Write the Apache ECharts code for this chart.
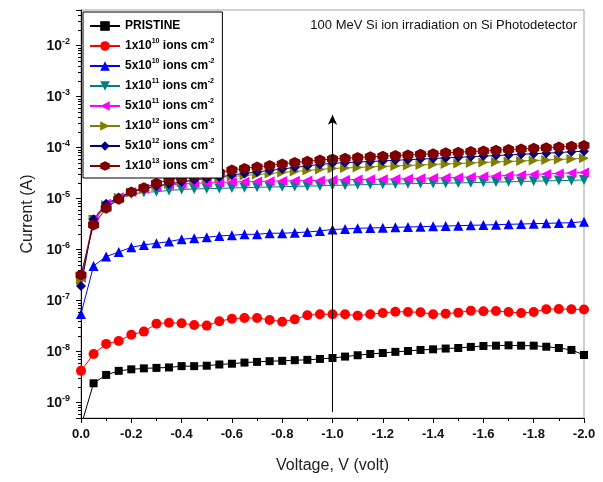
<!DOCTYPE html>
<html lang="en">
  <head>
    <meta charset="UTF-8" />
    <title>Si photodetector I-V</title>
    <style>
      body {
        margin: 0;
        background-color: #ffffff;
      }
      #chart {
        width: 603px;
        height: 482px;
      }
    </style>
  </head>
  <body>
    <div id="chart"></div>
    <script src="https://cdn.jsdelivr.net/npm/echarts@6/dist/echarts.min.js"></script>
    <script>
      // voltage points, 0 to -2.0 V every 0.05 V
      const voltage = [
        0, -0.05, -0.1, -0.15, -0.2, -0.25, -0.3, -0.35, -0.4, -0.45, -0.5,
        -0.55, -0.6, -0.65, -0.7, -0.75, -0.8, -0.85, -0.9, -0.95, -1.0,
        -1.05, -1.1, -1.15, -1.2, -1.25, -1.3, -1.35, -1.4, -1.45, -1.5,
        -1.55, -1.6, -1.65, -1.7, -1.75, -1.8, -1.85, -1.9, -1.95, -2.0,
      ];

      const pristine = [
        3.5e-10, 2.4e-9, 3.5e-9, 4.2e-9, 4.5e-9, 4.7e-9, 4.8e-9, 4.9e-9, 5.2e-9, 5.2e-9, 5.3e-9,
        5.6e-9, 5.8e-9, 6.1e-9, 6.3e-9, 6.5e-9, 6.6e-9, 6.8e-9, 6.9e-9, 7.2e-9, 7.5e-9,
        8.0e-9, 8.5e-9, 9.0e-9, 9.4e-9, 9.9e-9, 1.03e-8, 1.08e-8, 1.11e-8, 1.15e-8, 1.18e-8,
        1.24e-8, 1.29e-8, 1.31e-8, 1.33e-8, 1.31e-8, 1.31e-8, 1.25e-8, 1.18e-8, 1.08e-8, 8.6e-9,
      ];
      const flu1e10 = [
        4.2e-9, 9.0e-9, 1.42e-8, 1.62e-8, 2.15e-8, 2.47e-8, 3.54e-8, 3.7e-8, 3.6e-8, 3.34e-8, 3.24e-8,
        3.94e-8, 4.43e-8, 4.57e-8, 4.57e-8, 4.19e-8, 3.87e-8, 4.3e-8, 5.18e-8, 5.4e-8, 5.4e-8,
        5.4e-8, 5.08e-8, 5.4e-8, 5.74e-8, 6.08e-8, 6.0e-8, 5.92e-8, 5.4e-8, 5.56e-8, 5.82e-8,
        6.37e-8, 6.2e-8, 6.28e-8, 6.0e-8, 5.74e-8, 6.0e-8, 6.78e-8, 6.87e-8, 6.78e-8, 6.7e-8,
      ];
      const flu5e10 = [
        5.5e-8, 4.8e-7, 7.3e-7, 9.0e-7, 1.11e-6, 1.24e-6, 1.33e-6, 1.44e-6, 1.6e-6, 1.68e-6, 1.75e-6,
        1.86e-6, 1.91e-6, 2.0e-6, 2.0e-6, 2.1e-6, 2.1e-6, 2.15e-6, 2.22e-6, 2.32e-6, 2.49e-6,
        2.54e-6, 2.63e-6, 2.66e-6, 2.7e-6, 2.74e-6, 2.78e-6, 2.82e-6, 2.87e-6, 2.91e-6, 2.95e-6,
        3.0e-6, 3.04e-6, 3.09e-6, 3.14e-6, 3.18e-6, 3.23e-6, 3.28e-6, 3.33e-6, 3.38e-6, 3.54e-6,
      ];
      const flu1e11 = [
        2.55e-7, 3.8e-6, 6.9e-6, 9.9e-6, 1.24e-5, 1.32e-5, 1.37e-5, 1.45e-5, 1.51e-5, 1.55e-5, 1.57e-5,
        1.59e-5, 1.62e-5, 1.64e-5, 1.67e-5, 1.69e-5, 1.71e-5, 1.74e-5, 1.76e-5, 1.78e-5, 1.82e-5,
        1.84e-5, 1.87e-5, 1.89e-5, 1.92e-5, 1.94e-5, 1.96e-5, 1.98e-5, 1.99e-5, 2.01e-5, 2.03e-5,
        2.06e-5, 2.09e-5, 2.11e-5, 2.14e-5, 2.17e-5, 2.2e-5, 2.23e-5, 2.26e-5, 2.28e-5, 2.33e-5,
      ];
      const flu5e11 = [
        2.8e-7, 4.0e-6, 7.9e-6, 1.06e-5, 1.35e-5, 1.55e-5, 1.72e-5, 1.86e-5, 1.94e-5, 2.0e-5, 2.03e-5,
        2.08e-5, 2.12e-5, 2.15e-5, 2.17e-5, 2.2e-5, 2.22e-5, 2.24e-5, 2.26e-5, 2.28e-5, 2.33e-5,
        2.35e-5, 2.37e-5, 2.39e-5, 2.41e-5, 2.43e-5, 2.46e-5, 2.5e-5, 2.53e-5, 2.56e-5, 2.61e-5,
        2.66e-5, 2.72e-5, 2.79e-5, 2.85e-5, 2.92e-5, 2.98e-5, 3.05e-5, 3.12e-5, 3.19e-5, 3.27e-5,
      ];
      const flu1e12 = [
        2.55e-7, 3.8e-6, 7.5e-6, 1.03e-5, 1.32e-5, 1.55e-5, 1.77e-5, 1.94e-5, 2.12e-5, 2.33e-5, 2.49e-5,
        2.61e-5, 2.72e-5, 2.85e-5, 2.98e-5, 3.12e-5, 3.27e-5, 3.41e-5, 3.57e-5, 3.74e-5, 3.91e-5,
        4.0e-5, 4.09e-5, 4.19e-5, 4.28e-5, 4.38e-5, 4.48e-5, 4.58e-5, 4.69e-5, 4.79e-5, 4.9e-5,
        5.0e-5, 5.13e-5, 5.25e-5, 5.36e-5, 5.48e-5, 5.6e-5, 5.74e-5, 5.87e-5, 6.0e-5, 6.2e-5,
      ];
      const flu5e12 = [
        1.94e-7, 3.95e-6, 7.9e-6, 1.05e-5, 1.37e-5, 1.58e-5, 1.77e-5, 1.94e-5, 2.12e-5, 2.33e-5, 2.49e-5,
        2.66e-5, 2.92e-5, 3.12e-5, 3.34e-5, 3.57e-5, 3.82e-5, 4.09e-5, 4.38e-5, 4.69e-5, 4.94e-5,
        5.08e-5, 5.22e-5, 5.36e-5, 5.5e-5, 5.65e-5, 5.81e-5, 5.96e-5, 6.12e-5, 6.3e-5, 6.47e-5,
        6.65e-5, 6.82e-5, 7.0e-5, 7.2e-5, 7.4e-5, 7.6e-5, 7.8e-5, 8.0e-5, 8.3e-5, 8.5e-5,
      ];
      const flu1e13 = [
        3.2e-7, 3.05e-6, 6.5e-6, 9.7e-6, 1.35e-5, 1.64e-5, 2.0e-5, 2.33e-5, 2.58e-5, 2.82e-5, 2.92e-5,
        3.27e-5, 3.66e-5, 3.91e-5, 4.19e-5, 4.48e-5, 4.79e-5, 5.13e-5, 5.4e-5, 5.74e-5, 6.0e-5,
        6.2e-5, 6.4e-5, 6.6e-5, 6.8e-5, 7.0e-5, 7.2e-5, 7.4e-5, 7.6e-5, 7.9e-5, 8.1e-5,
        8.4e-5, 8.6e-5, 8.9e-5, 9.2e-5, 9.4e-5, 9.7e-5, 1.0e-4, 1.03e-4, 1.06e-4, 1.1e-4,
      ];

      const seriesNames = [
        "PRISTINE", "1x10^10", "5x10^10", "1x10^11",
        "5x10^11", "1x10^12", "5x10^12", "1x10^13",
      ];
      const seriesData = [
        pristine, flu1e10, flu5e10, flu1e11, flu5e11, flu1e12, flu5e12, flu1e13,
      ];

      // arrow at -1.0 V showing increasing fluence
      const arrowV = -1.0;
      const arrowFrom = 6.5e-10;
      const arrowTo = 4.4e-4;

      const hexagon = "path://M50,0 L93.3,25 L93.3,75 L50,100 L6.7,75 L6.7,25 Z";
      const looks = [
        { color: "#000000", symbol: "rect", size: 8, rotate: 0 },
        { color: "#ff0000", symbol: "circle", size: 10, rotate: 0 },
        { color: "#0000ff", symbol: "triangle", size: 10, rotate: 0 },
        { color: "#008080", symbol: "triangle", size: 10, rotate: 180 },
        { color: "#ff00ff", symbol: "triangle", size: 10, rotate: 90 },
        { color: "#808000", symbol: "triangle", size: 10, rotate: -90 },
        { color: "#000080", symbol: "diamond", size: 10, rotate: 0 },
        { color: "#800000", symbol: hexagon, size: 11, rotate: 0 },
      ];

      const font = "Liberation Sans, Arial, sans-serif";

      const series = seriesNames.map((name, i) => {
        const s = {
          name: name,
          type: "line",
          data: voltage.map((v, k) => [v, seriesData[i][k]]),
          symbol: looks[i].symbol,
          symbolSize: looks[i].size,
          symbolRotate: looks[i].rotate,
          showAllSymbol: true,
          color: looks[i].color,
          lineStyle: { width: 1, color: looks[i].color },
          itemStyle: { color: looks[i].color },
          emphasis: { disabled: true },
          animation: false,
        };
        if (i === 0) {
          s.markLine = {
            silent: true,
            symbol: ["none", "arrow"],
            symbolSize: [7, 10],
            label: { show: false },
            lineStyle: { color: "#000", width: 1, type: "solid" },
            data: [[{ coord: [arrowV, arrowFrom] }, { coord: [arrowV, arrowTo] }]],
          };
        }
        return s;
      });

      const chart = echarts.init(document.getElementById("chart"));
      chart.setOption({
        backgroundColor: "#ffffff",
        animation: false,
        textStyle: { fontFamily: font },
        title: {
          text: "100 MeV Si ion irradiation on Si Photodetector",
          right: 26,
          top: 19,
          padding: 0,
          textStyle: { fontSize: 13, fontWeight: "normal", color: "#111", fontFamily: font },
        },
        grid: {
          left: 81,
          right: 19,
          top: 10,
          bottom: 64,
          show: true,
          borderColor: "#a0a0a0",
          borderWidth: 1,
        },
        legend: {
          orient: "vertical",
          left: 83,
          top: 12,
          padding: [6, 8, 4, 6],
          itemWidth: 30,
          itemHeight: 12,
          itemGap: 4,
          borderColor: "#000",
          borderWidth: 1,
          backgroundColor: "#fff",
          data: seriesNames,
          formatter: (name) =>
            name === "PRISTINE"
              ? name
              : name.replace(/\^(\d+)/, "{sup|$1}") + " ions cm{sup|-2}",
          textStyle: {
            fontSize: 12,
            fontWeight: "bold",
            color: "#000",
            lineHeight: 16,
            fontFamily: font,
            rich: {
              sup: { fontSize: 7, fontWeight: "bold", verticalAlign: "top", lineHeight: 16, fontFamily: font },
            },
          },
        },
        xAxis: {
          type: "value",
          min: -2,
          max: 0,
          interval: 0.2,
          inverse: true,
          name: "Voltage, V (volt)",
          nameLocation: "middle",
          nameGap: 40,
          nameTextStyle: { fontSize: 16, color: "#222", fontFamily: font },
          axisLine: { show: true, onZero: false, lineStyle: { color: "#000", width: 1 } },
          axisTick: { show: true, length: 5, lineStyle: { color: "#000" } },
          minorTick: { show: true, splitNumber: 2, length: 3, lineStyle: { color: "#000" } },
          splitLine: { show: false },
          axisLabel: {
            margin: 10,
            fontSize: 13,
            fontWeight: "bold",
            color: "#111",
            formatter: (v) => v.toFixed(1),
          },
        },
        yAxis: {
          type: "log",
          logBase: 10,
          min: 5e-10,
          max: 5e-2,
          name: "Current (A)",
          nameLocation: "middle",
          nameGap: 44,
          nameTextStyle: { fontSize: 16, color: "#222", fontFamily: font },
          axisLine: { show: true, lineStyle: { color: "#000", width: 1 } },
          axisTick: { show: true, length: 5, lineStyle: { color: "#000" } },
          minorTick: { show: true, splitNumber: 9, length: 3, lineStyle: { color: "#000" } },
          splitLine: { show: false },
          axisLabel: {
            margin: 11,
            fontSize: 14,
            fontWeight: "bold",
            color: "#111",
            lineHeight: 18,
            showMinLabel: false,
            showMaxLabel: false,
            formatter: (v) => {
              const e = Math.round(Math.log10(v));
              if (Math.abs(Math.log10(v) - e) > 1e-6) return "";
              return "10{sup|" + e + "}";
            },
            rich: {
              sup: { fontSize: 9, fontWeight: "bold", verticalAlign: "top", lineHeight: 18, color: "#111" },
            },
          },
        },
        series: series,
      });
    </script>
  </body>
</html>
